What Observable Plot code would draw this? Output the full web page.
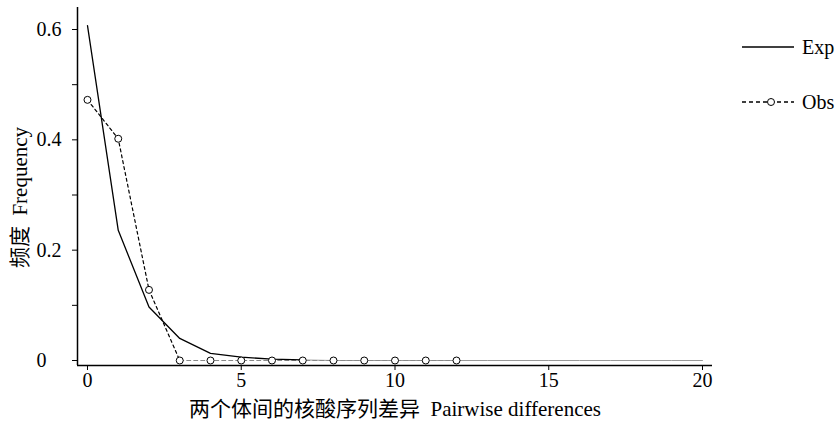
<!DOCTYPE html>
<html><head><meta charset="utf-8">
<script src="https://cdn.jsdelivr.net/npm/d3@7"></script>
<script src="https://cdn.jsdelivr.net/npm/@observablehq/plot@0.6"></script>
<style>
body{margin:0;background:#fff;}
#wrap{position:relative;width:838px;height:425px;}
#legend{position:absolute;left:736px;top:20px;}
</style></head><body><div id="wrap"></div>
<script>
const diffs = d3.range(0, 21);
const expFreq = [0.607,0.236,0.097,0.040,0.013,0.006,0.0025,0.001,0,0,0,0,0,0,0,0,0,0,0,0,0];
const obsDiffs = d3.range(0, 13);
const obsFreq = [0.4725,0.402,0.128,0,0,0,0,0,0,0,0,0,0];
const xTicks = [0,5,10,15,20];
const yTicks = [0,0.1,0.2,0.3,0.4,0.5,0.6];
const yLabelTicks = [0,0.2,0.4,0.6];
const yLabelText = ["0","0.2","0.4","0.6"];
const seriesNames = ["Exp","Obs"];
const xLabel = "两个体间的核酸序列差异  Pairwise differences";
const yLabel = "频度  Frequency";

const exp = diffs.map((d,i)=>({x:d, y:expFreq[i]}));
const obs = obsDiffs.map((d,i)=>({x:d, y:obsFreq[i]}));
const expMain = exp.filter(d=>d.x<=7), expTail = exp.filter(d=>d.x>=7);
const obsMain = obs.filter(d=>d.x<=3), obsTail = obs.filter(d=>d.x>=3);
const yLab = yLabelTicks.map((v,i)=>({y:v, t:yLabelText[i]}));

const xDomain = [-0.325, 20.325], yDomain = [-0.00906, 0.6399];
const font = '"Liberation Serif","Noto Sans CJK SC",serif';

const chart = Plot.plot({
  width: 838, height: 425,
  marginLeft: 77, marginRight: 126, marginTop: 7, marginBottom: 60,
  x: {domain: xDomain}, y: {domain: yDomain},
  style: {fontFamily: font, fontSize: "20px", color: "#000", background: "#fff"},
  marks: [
    Plot.axisY(yTicks, {tickSize: 5, tickFormat: () => "", label: null}),
    Plot.text(yLab, {x: () => xDomain[0], y: "y", text: "t", textAnchor: "start", dx: -41, fontSize: 20}),
    Plot.axisX(xTicks, {tickSize: 5, tickPadding: 2, fontSize: 20, label: null}),
    Plot.ruleX([xDomain[0]], {stroke: "#000", strokeWidth: 1.5}),
    Plot.ruleY([yDomain[0]], {stroke: "#000", strokeWidth: 1.5}),
    Plot.line(expTail, {x: "x", y: "y", stroke: "#999", strokeWidth: 1}),
    Plot.line(obsTail, {x: "x", y: "y", stroke: "#888", strokeWidth: 1, strokeDasharray: "4,3"}),
    Plot.line(expMain, {x: "x", y: "y", stroke: "#000", strokeWidth: 1.3}),
    Plot.line(obsMain, {x: "x", y: "y", stroke: "#000", strokeWidth: 1.2, strokeDasharray: "3,3"}),
    Plot.dot(obs, {x: "x", y: "y", r: 3.5, stroke: "#000", fill: "#fff", strokeWidth: 1}),
    Plot.text([xLabel], {frameAnchor: "bottom", dy: 50, fontSize: 21}),
    Plot.text([yLabel], {frameAnchor: "left", textAnchor: "middle", lineAnchor: "middle", rotate: -90, dx: -57, dy: 11, fontSize: 21})
  ]
});
const wrap = document.getElementById("wrap");
wrap.appendChild(chart);

// legend on the right
const leg = d3.select(wrap).append("svg").attr("id","legend").attr("width",102).attr("height",100)
  .style("font-family", font).style("font-size","20px");
seriesNames.forEach((name,i)=>{
  const cy = i === 0 ? 27 : 82;
  const g = leg.append("g");
  g.append("line").attr("x1",6).attr("x2",58).attr("y1",cy).attr("y2",cy)
    .attr("stroke","#000").attr("stroke-width",1.3)
    .attr("stroke-dasharray", i === 0 ? null : "4,3");
  if (i === 1) g.append("circle").attr("cx",35).attr("cy",cy).attr("r",3.5).attr("fill","#fff").attr("stroke","#000");
  g.append("text").attr("x",66).attr("y",cy).attr("dy","0.35em").text(name);
});
</script></body></html>
